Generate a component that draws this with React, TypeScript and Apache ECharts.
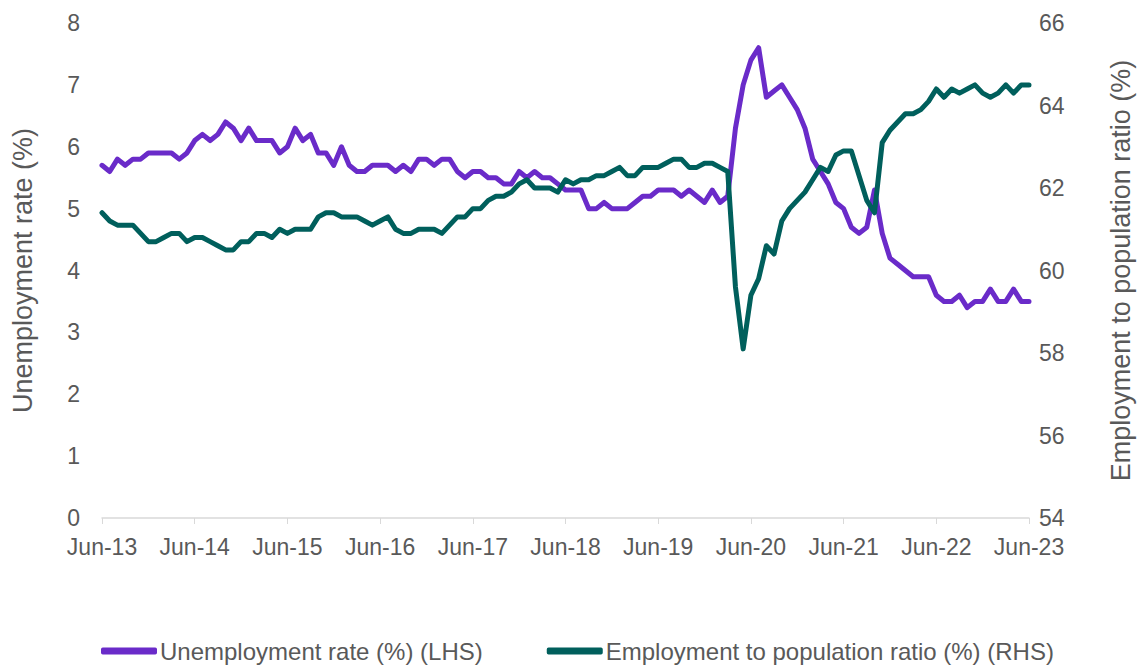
import React, { useEffect, useRef } from "react";
import * as echarts from "echarts";

const monthNames = ["Jan", "Feb", "Mar", "Apr", "May", "Jun", "Jul", "Aug", "Sep", "Oct", "Nov", "Dec"];
const startYear = 2013;
const startMonth = 5; // Jun
const monthCount = 121;

const categories: string[] = [];
for (let k = 0; k < monthCount; k++) {
  const m = (startMonth + k) % 12;
  const y = startYear + Math.floor((startMonth + k) / 12);
  categories.push(`${monthNames[m]}-${String(y % 100).padStart(2, "0")}`);
}

const unemploymentRate = [
  5.7, 5.6, 5.8, 5.7, 5.8, 5.8, 5.9, 5.9, 5.9, 5.9, 5.8, 5.9,
  6.1, 6.2, 6.1, 6.2, 6.4, 6.3, 6.1, 6.3, 6.1, 6.1, 6.1, 5.9,
  6.0, 6.3, 6.1, 6.2, 5.9, 5.9, 5.7, 6.0, 5.7, 5.6, 5.6, 5.7,
  5.7, 5.7, 5.6, 5.7, 5.6, 5.8, 5.8, 5.7, 5.8, 5.8, 5.6, 5.5,
  5.6, 5.6, 5.5, 5.5, 5.4, 5.4, 5.6, 5.5, 5.6, 5.5, 5.5, 5.4,
  5.3, 5.3, 5.3, 5.0, 5.0, 5.1, 5.0, 5.0, 5.0, 5.1, 5.2, 5.2,
  5.3, 5.3, 5.3, 5.2, 5.3, 5.2, 5.1, 5.3, 5.1, 5.2, 6.3, 7.0,
  7.4, 7.6, 6.8, 6.9, 7.0, 6.8, 6.6, 6.3, 5.8, 5.6, 5.4, 5.1,
  5.0, 4.7, 4.6, 4.7, 5.3, 4.6, 4.2, 4.1, 4.0, 3.9, 3.9, 3.9,
  3.6, 3.5, 3.5, 3.6, 3.4, 3.5, 3.5, 3.7, 3.5, 3.5, 3.7, 3.5,
  3.5,
];

const employmentRatio = [
  61.4, 61.2, 61.1, 61.1, 61.1, 60.9, 60.7, 60.7, 60.8, 60.9, 60.9, 60.7,
  60.8, 60.8, 60.7, 60.6, 60.5, 60.5, 60.7, 60.7, 60.9, 60.9, 60.8, 61.0,
  60.9, 61.0, 61.0, 61.0, 61.3, 61.4, 61.4, 61.3, 61.3, 61.3, 61.2, 61.1,
  61.2, 61.3, 61.0, 60.9, 60.9, 61.0, 61.0, 61.0, 60.9, 61.1, 61.3, 61.3,
  61.5, 61.5, 61.7, 61.8, 61.8, 61.9, 62.1, 62.2, 62.0, 62.0, 62.0, 61.9,
  62.2, 62.1, 62.2, 62.2, 62.3, 62.3, 62.4, 62.5, 62.3, 62.3, 62.5, 62.5,
  62.5, 62.6, 62.7, 62.7, 62.5, 62.5, 62.6, 62.6, 62.5, 62.4, 59.6, 58.1,
  59.4, 59.8, 60.6, 60.4, 61.2, 61.5, 61.7, 61.9, 62.2, 62.5, 62.4, 62.8,
  62.9, 62.9, 62.3, 61.7, 61.4, 63.1, 63.4, 63.6, 63.8, 63.8, 63.9, 64.1,
  64.4, 64.2, 64.4, 64.3, 64.4, 64.5, 64.3, 64.2, 64.3, 64.5, 64.3, 64.5,
  64.5,
];

const seriesNames = ["Unemployment rate (%) (LHS)", "Employment to population ratio (%) (RHS)"];
const leftAxisName = "Unemployment rate (%)";
const rightAxisName = "Employment to population ratio (%)";

const FONT = "'Liberation Sans', Arial, sans-serif";
const TEXT = "#595959";
const PURPLE = "#6A2BC9";
const GREEN = "#005F5C";

export default function App() {
  const ref = useRef<HTMLDivElement>(null);
  useEffect(() => {
    if (!ref.current) return;
    const chart = echarts.init(ref.current, undefined, { renderer: "svg" });
    chart.setOption({
      animation: false,
      textStyle: { fontFamily: FONT },
      grid: { left: 102, right: 109, top: 23, bottom: 148, containLabel: false },
      legend: {
        left: 101,
        top: 638,
        padding: 0,
        itemWidth: 56,
        itemHeight: 7,
        itemGap: 64,
        icon: "roundRect",
        textStyle: { color: TEXT, fontSize: 24, lineHeight: 26, fontFamily: FONT, padding: [0, 0, 0, -2] },
        data: seriesNames,
      },
      xAxis: {
        type: "category",
        data: categories,
        boundaryGap: false,
        axisLine: { lineStyle: { color: "#D9D9D9", width: 1.5 } },
        axisTick: { interval: 11, length: 6, lineStyle: { color: "#D9D9D9" } },
        axisLabel: { interval: 11, color: TEXT, fontSize: 23, margin: 17, fontFamily: FONT },
        splitLine: { show: false },
      },
      yAxis: [
        {
          type: "value",
          min: 0,
          max: 8,
          interval: 1,
          position: "left",
          name: leftAxisName,
          nameLocation: "middle",
          nameGap: 66,
          nameTextStyle: { color: TEXT, fontSize: 27, fontFamily: FONT },
          axisLine: { show: false },
          axisTick: { show: false },
          splitLine: { show: false },
          axisLabel: { color: TEXT, fontSize: 23, margin: 22, fontFamily: FONT },
        },
        {
          type: "value",
          min: 54,
          max: 66,
          interval: 2,
          position: "right",
          name: rightAxisName,
          nameLocation: "middle",
          nameGap: 78,
          nameTextStyle: { color: TEXT, fontSize: 27, fontFamily: FONT },
          axisLine: { show: false },
          axisTick: { show: false },
          splitLine: { show: false },
          axisLabel: { color: TEXT, fontSize: 23, margin: 10, fontFamily: FONT },
        },
      ],
      series: [
        {
          name: seriesNames[0],
          type: "line",
          yAxisIndex: 0,
          data: unemploymentRate,
          showSymbol: false,
          symbol: "none",
          lineStyle: { color: PURPLE, width: 5, cap: "round", join: "round" },
          itemStyle: { color: PURPLE },
          z: 2,
        },
        {
          name: seriesNames[1],
          type: "line",
          yAxisIndex: 1,
          data: employmentRatio,
          showSymbol: false,
          symbol: "none",
          lineStyle: { color: GREEN, width: 5, cap: "round", join: "round" },
          itemStyle: { color: GREEN },
          z: 3,
        },
      ],
    });
    return () => chart.dispose();
  }, []);
  return (
    <div
      ref={ref}
      style={{ position: "absolute", left: 0, top: 0, width: 1142, height: 666, background: "#fff" }}
    />
  );
}
